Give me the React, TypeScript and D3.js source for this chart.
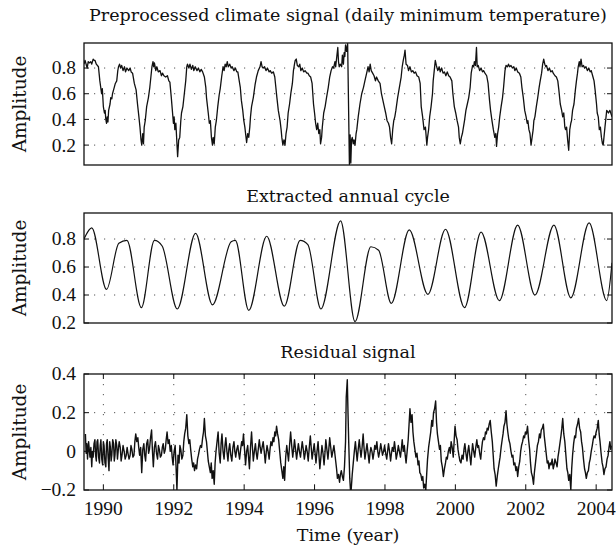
import React from 'react';
import * as d3 from 'd3';

// ---------- data ----------
const yearTicks = [1990, 1992, 1994, 1996, 1998, 2000, 2002, 2004];
const signalTicks = [0.2, 0.4, 0.6, 0.8];
const cycleTicks = [0.2, 0.4, 0.6, 0.8];
const residualTicks = [-0.2, 0, 0.2, 0.4];

const signal: [number, number][] = [
  [1989.45,0.83],[1989.48,0.86],[1989.53,0.81],[1989.54,0.80],[1989.57,0.85],[1989.60,0.84],[1989.64,0.85],[1989.67,0.83],[1989.71,0.87],[1989.74,0.86],[1989.76,0.86],[1989.80,0.83],[1989.86,0.81],[1989.90,0.70],[1989.95,0.60],[1989.97,0.64],[1990.00,0.50],[1990.03,0.45],[1990.05,0.47],[1990.07,0.40],[1990.09,0.37],[1990.11,0.42],[1990.13,0.38],[1990.15,0.47],[1990.19,0.52],[1990.21,0.57],[1990.24,0.56],[1990.26,0.60],[1990.30,0.64],[1990.34,0.68],[1990.38,0.70],[1990.41,0.78],[1990.43,0.81],[1990.46,0.83],[1990.49,0.80],[1990.52,0.82],[1990.56,0.78],[1990.60,0.81],[1990.63,0.77],[1990.67,0.80],[1990.72,0.78],[1990.76,0.80],[1990.79,0.77],[1990.83,0.76],[1990.88,0.68],[1990.93,0.63],[1990.97,0.52],
  [1991.01,0.42],[1991.04,0.34],[1991.07,0.24],[1991.09,0.20],[1991.12,0.29],[1991.14,0.21],[1991.16,0.34],[1991.19,0.39],[1991.23,0.50],[1991.28,0.57],[1991.32,0.65],[1991.35,0.73],[1991.38,0.81],[1991.41,0.85],[1991.43,0.81],[1991.45,0.84],[1991.49,0.78],[1991.52,0.81],[1991.56,0.77],[1991.61,0.78],[1991.65,0.74],[1991.68,0.76],[1991.72,0.74],[1991.77,0.73],[1991.82,0.74],[1991.86,0.70],[1991.89,0.69],[1991.93,0.57],[1991.99,0.37],
  [1992.01,0.42],[1992.03,0.32],[1992.06,0.37],[1992.11,0.11],[1992.14,0.24],[1992.17,0.26],[1992.20,0.39],[1992.22,0.45],[1992.26,0.50],[1992.30,0.60],[1992.34,0.70],[1992.37,0.81],[1992.39,0.83],[1992.43,0.80],[1992.46,0.83],[1992.50,0.79],[1992.54,0.82],[1992.57,0.78],[1992.61,0.81],[1992.66,0.78],[1992.70,0.80],[1992.74,0.77],[1992.78,0.79],[1992.82,0.77],[1992.87,0.73],[1992.91,0.65],[1992.93,0.57],[1992.98,0.45],
  [1993.01,0.37],[1993.04,0.39],[1993.07,0.26],[1993.10,0.20],[1993.12,0.26],[1993.15,0.21],[1993.18,0.34],[1993.21,0.39],[1993.25,0.50],[1993.29,0.59],[1993.32,0.64],[1993.36,0.73],[1993.40,0.81],[1993.43,0.78],[1993.46,0.83],[1993.49,0.81],[1993.52,0.85],[1993.55,0.81],[1993.59,0.83],[1993.63,0.80],[1993.66,0.81],[1993.71,0.78],[1993.75,0.80],[1993.79,0.77],[1993.82,0.77],[1993.86,0.70],[1993.89,0.65],[1993.92,0.55],[1993.96,0.47],[1993.99,0.39],
  [1994.02,0.34],[1994.04,0.29],[1994.07,0.22],[1994.10,0.29],[1994.13,0.26],[1994.16,0.34],[1994.18,0.42],[1994.21,0.50],[1994.26,0.57],[1994.31,0.67],[1994.35,0.73],[1994.40,0.78],[1994.45,0.81],[1994.48,0.85],[1994.51,0.81],[1994.54,0.80],[1994.58,0.81],[1994.62,0.78],[1994.66,0.80],[1994.71,0.77],[1994.74,0.78],[1994.78,0.76],[1994.83,0.77],[1994.87,0.73],[1994.90,0.65],[1994.93,0.57],[1994.97,0.47],
  [1995.02,0.39],[1995.05,0.32],[1995.07,0.26],[1995.10,0.20],[1995.13,0.24],[1995.16,0.20],[1995.19,0.29],[1995.22,0.34],[1995.25,0.45],[1995.29,0.52],[1995.33,0.61],[1995.37,0.68],[1995.40,0.78],[1995.43,0.83],[1995.45,0.86],[1995.48,0.87],[1995.51,0.82],[1995.55,0.81],[1995.58,0.83],[1995.61,0.78],[1995.65,0.80],[1995.69,0.77],[1995.73,0.78],[1995.78,0.76],[1995.81,0.76],[1995.85,0.74],[1995.89,0.73],[1995.93,0.68],[1995.97,0.52],
  [1996.00,0.45],[1996.03,0.37],[1996.06,0.32],[1996.09,0.37],[1996.12,0.29],[1996.15,0.32],[1996.17,0.21],[1996.20,0.26],[1996.22,0.34],[1996.26,0.45],[1996.30,0.50],[1996.34,0.57],[1996.39,0.65],[1996.43,0.73],[1996.47,0.78],[1996.51,0.81],[1996.54,0.80],[1996.58,0.85],[1996.60,0.81],[1996.64,0.91],[1996.66,0.96],[1996.68,0.85],[1996.70,0.81],[1996.73,0.83],[1996.77,0.81],[1996.79,0.90],[1996.82,0.83],[1996.84,0.92],[1996.86,0.89],[1996.88,0.98],[1996.91,0.93],[1996.94,0.99],[1996.99,0.05],
  [1997.01,0.28],[1997.03,0.06],[1997.05,0.24],[1997.07,0.26],[1997.10,0.21],[1997.12,0.24],[1997.15,0.20],[1997.18,0.29],[1997.20,0.32],[1997.24,0.42],[1997.29,0.52],[1997.34,0.60],[1997.39,0.65],[1997.43,0.70],[1997.48,0.76],[1997.52,0.81],[1997.55,0.77],[1997.58,0.83],[1997.61,0.78],[1997.65,0.76],[1997.69,0.74],[1997.73,0.70],[1997.76,0.73],[1997.81,0.70],[1997.86,0.68],[1997.90,0.60],[1997.94,0.55],[1997.98,0.50],
  [1998.02,0.45],[1998.06,0.39],[1998.10,0.37],[1998.13,0.34],[1998.16,0.26],[1998.19,0.21],[1998.22,0.32],[1998.25,0.39],[1998.28,0.42],[1998.31,0.47],[1998.36,0.57],[1998.41,0.65],[1998.46,0.73],[1998.49,0.81],[1998.52,0.86],[1998.55,0.90],[1998.57,0.94],[1998.60,0.83],[1998.64,0.82],[1998.67,0.78],[1998.71,0.81],[1998.75,0.77],[1998.79,0.78],[1998.83,0.76],[1998.87,0.77],[1998.91,0.74],[1998.96,0.73],
  [1999.00,0.68],[1999.03,0.50],[1999.07,0.42],[1999.11,0.32],[1999.15,0.34],[1999.19,0.20],[1999.21,0.26],[1999.24,0.32],[1999.27,0.42],[1999.31,0.50],[1999.35,0.60],[1999.37,0.70],[1999.40,0.78],[1999.43,0.86],[1999.46,0.82],[1999.50,0.78],[1999.54,0.81],[1999.57,0.77],[1999.61,0.80],[1999.65,0.76],[1999.69,0.77],[1999.73,0.74],[1999.77,0.77],[1999.81,0.74],[1999.85,0.73],[1999.90,0.70],[1999.93,0.60],[1999.97,0.50],
  [2000.01,0.45],[2000.05,0.39],[2000.09,0.34],[2000.11,0.26],[2000.14,0.21],[2000.17,0.26],[2000.20,0.29],[2000.23,0.34],[2000.26,0.39],[2000.30,0.47],[2000.34,0.52],[2000.38,0.57],[2000.42,0.65],[2000.45,0.76],[2000.49,0.82],[2000.52,0.81],[2000.54,0.85],[2000.57,0.82],[2000.60,0.96],[2000.62,0.81],[2000.65,0.82],[2000.69,0.78],[2000.73,0.80],[2000.77,0.77],[2000.80,0.78],[2000.84,0.76],[2000.89,0.74],[2000.93,0.68],[2000.97,0.55],
  [2001.00,0.47],[2001.04,0.39],[2001.08,0.32],[2001.12,0.26],[2001.15,0.29],[2001.17,0.19],[2001.20,0.29],[2001.23,0.34],[2001.26,0.42],[2001.30,0.50],[2001.34,0.57],[2001.37,0.65],[2001.41,0.78],[2001.44,0.82],[2001.48,0.81],[2001.51,0.83],[2001.54,0.81],[2001.58,0.82],[2001.62,0.80],[2001.66,0.81],[2001.69,0.78],[2001.73,0.80],[2001.77,0.77],[2001.82,0.76],[2001.86,0.73],[2001.89,0.65],[2001.93,0.57],[2001.97,0.47],
  [2002.01,0.42],[2002.04,0.37],[2002.06,0.39],[2002.09,0.32],[2002.12,0.29],[2002.15,0.20],[2002.18,0.26],[2002.21,0.32],[2002.23,0.39],[2002.26,0.42],[2002.30,0.50],[2002.34,0.57],[2002.38,0.65],[2002.41,0.70],[2002.45,0.76],[2002.48,0.83],[2002.51,0.87],[2002.54,0.83],[2002.57,0.81],[2002.59,0.82],[2002.63,0.78],[2002.67,0.80],[2002.71,0.77],[2002.75,0.78],[2002.78,0.76],[2002.83,0.74],[2002.87,0.73],[2002.91,0.70],[2002.94,0.63],[2002.98,0.52],
  [2003.02,0.47],[2003.05,0.42],[2003.08,0.45],[2003.11,0.34],[2003.13,0.32],[2003.16,0.34],[2003.19,0.24],[2003.22,0.16],[2003.25,0.32],[2003.28,0.37],[2003.30,0.39],[2003.33,0.47],[2003.37,0.52],[2003.41,0.63],[2003.44,0.70],[2003.47,0.76],[2003.49,0.81],[2003.52,0.85],[2003.54,0.81],[2003.57,0.87],[2003.60,0.81],[2003.64,0.82],[2003.67,0.80],[2003.71,0.81],[2003.75,0.78],[2003.79,0.80],[2003.83,0.77],[2003.86,0.78],[2003.90,0.74],[2003.94,0.70],[2003.97,0.63],
  [2004.01,0.52],[2004.03,0.45],[2004.06,0.42],[2004.09,0.32],[2004.12,0.34],[2004.15,0.26],[2004.18,0.21],[2004.20,0.20],[2004.25,0.34],[2004.30,0.47],[2004.35,0.45],[2004.39,0.47],[2004.45,0.42]
];

const cycle: [number, number][] = [
  [1989.45,0.80],[1989.67,0.88],[1990.09,0.44],[1990.44,0.77],[1990.67,0.79],[1991.08,0.31],[1991.45,0.79],[1991.67,0.75],
  [1992.10,0.30],[1992.62,0.84],[1993.10,0.33],[1993.63,0.78],[1993.75,0.79],[1994.13,0.29],[1994.64,0.82],[1995.14,0.32],
  [1995.59,0.79],[1995.81,0.76],[1996.18,0.30],[1996.74,0.93],[1997.15,0.21],[1997.60,0.745],[1997.82,0.72],[1998.18,0.34],
  [1998.69,0.865],[1999.22,0.405],[1999.72,0.87],[2000.26,0.31],[2000.73,0.85],[2001.25,0.36],[2001.77,0.90],[2002.26,0.40],
  [2002.80,0.90],[2003.28,0.38],[2003.80,0.915],[2004.30,0.36],[2004.45,0.63]
];

const residual: [number, number][] = [
  [1989.49,0.09],[1989.51,-0.01],[1989.53,0.04],[1989.55,-0.04],[1989.58,0.05],[1989.60,0.01],[1989.62,-0.03],[1989.645,0.02],[1989.67,-0.08],[1989.69,0.00],[1989.71,-0.03],[1989.735,0.04],[1989.76,0.06],[1989.78,-0.02],[1989.80,-0.05],[1989.82,0.05],[1989.84,0.06],[1989.865,-0.03],[1989.89,-0.06],[1989.91,0.03],[1989.93,0.06],[1989.955,-0.04],[1989.98,-0.07],
  [1990.00,0.05],[1990.02,0.03],[1990.045,-0.06],[1990.07,-0.08],[1990.09,0.04],[1990.11,0.06],[1990.135,-0.03],[1990.16,-0.10],[1990.18,0.05],[1990.20,0.02],[1990.22,-0.05],[1990.24,-0.02],[1990.265,0.06],[1990.29,0.04],[1990.31,-0.05],[1990.33,-0.02],[1990.355,0.06],[1990.38,0.03],[1990.40,-0.04],[1990.42,0.00],[1990.45,0.05],[1990.48,0.02],[1990.505,-0.05],[1990.53,-0.02],[1990.56,0.03],[1990.59,0.00],[1990.62,-0.04],[1990.65,-0.02],[1990.675,0.02],[1990.70,-0.01],[1990.73,-0.04],[1990.76,-0.02],[1990.785,0.03],[1990.81,0.01],[1990.84,-0.03],[1990.87,-0.02],[1990.895,0.05],[1990.92,0.09],[1990.95,0.05],[1990.98,0.07],
  [1991.005,0.02],[1991.03,-0.02],[1991.06,0.02],[1991.09,-0.11],[1991.12,0.01],[1991.15,0.04],[1991.175,-0.02],[1991.20,-0.05],[1991.23,0.04],[1991.26,0.06],[1991.285,-0.01],[1991.31,0.01],[1991.34,0.07],[1991.37,0.11],[1991.395,0.00],[1991.42,-0.08],[1991.45,0.02],[1991.48,0.05],[1991.51,-0.01],[1991.54,-0.04],[1991.565,0.03],[1991.59,0.01],[1991.62,-0.03],[1991.65,-0.02],[1991.675,0.02],[1991.70,0.04],[1991.73,-0.01],[1991.76,0.01],[1991.785,0.06],[1991.81,0.10],[1991.84,0.04],[1991.87,0.06],[1991.90,0.00],[1991.93,0.03],[1991.955,-0.03],[1991.98,-0.07],
  [1992.01,0.00],[1992.04,0.03],[1992.065,-0.08],[1992.09,-0.20],[1992.12,-0.02],[1992.15,-0.06],[1992.175,0.03],[1992.20,0.01],[1992.23,-0.04],[1992.26,-0.02],[1992.285,0.05],[1992.31,0.09],[1992.34,0.12],[1992.37,0.19],[1992.40,0.08],[1992.43,0.04],[1992.455,0.06],[1992.48,0.01],[1992.51,-0.04],[1992.54,-0.08],[1992.565,-0.06],[1992.59,-0.10],[1992.62,-0.07],[1992.65,-0.09],[1992.675,-0.04],[1992.70,-0.02],[1992.73,0.01],[1992.76,0.03],[1992.79,0.02],[1992.82,0.07],[1992.845,0.10],[1992.87,0.17],[1992.90,0.08],[1992.93,0.05],[1992.955,0.00],[1992.98,-0.05],
  [1993.01,-0.08],[1993.04,-0.11],[1993.065,-0.06],[1993.09,-0.14],[1993.12,-0.10],[1993.15,-0.17],[1993.175,-0.06],[1993.20,0.00],[1993.23,0.05],[1993.26,0.10],[1993.29,-0.01],[1993.32,-0.06],[1993.345,0.04],[1993.37,0.09],[1993.40,0.00],[1993.43,-0.04],[1993.455,0.03],[1993.48,0.07],[1993.51,0.00],[1993.54,-0.05],[1993.565,0.01],[1993.59,0.04],[1993.62,-0.02],[1993.65,-0.05],[1993.68,0.02],[1993.71,0.05],[1993.735,0.00],[1993.76,-0.03],[1993.79,0.01],[1993.82,0.03],[1993.845,-0.01],[1993.87,-0.04],[1993.90,0.01],[1993.93,0.05],[1993.955,0.03],[1993.98,0.09],
  [1994.01,0.01],[1994.04,-0.07],[1994.07,0.00],[1994.10,0.03],[1994.125,-0.03],[1994.15,-0.09],[1994.18,0.02],[1994.21,0.10],[1994.235,0.02],[1994.26,-0.05],[1994.29,0.00],[1994.32,0.04],[1994.345,-0.01],[1994.37,-0.04],[1994.40,0.01],[1994.43,0.06],[1994.455,0.02],[1994.48,-0.01],[1994.51,0.02],[1994.54,0.05],[1994.57,0.00],[1994.60,-0.06],[1994.625,-0.01],[1994.65,0.03],[1994.68,0.00],[1994.71,-0.04],[1994.735,0.01],[1994.76,0.05],[1994.79,0.03],[1994.82,0.07],[1994.845,0.05],[1994.87,0.10],[1994.895,0.08],[1994.92,0.13],[1994.95,0.09],[1994.98,0.06],
  [1995.01,0.00],[1995.04,-0.06],[1995.07,-0.10],[1995.10,-0.14],[1995.125,-0.08],[1995.15,-0.15],[1995.18,-0.03],[1995.21,0.03],[1995.235,-0.01],[1995.26,-0.05],[1995.29,0.03],[1995.32,0.10],[1995.35,0.03],[1995.38,-0.03],[1995.405,0.01],[1995.43,0.06],[1995.46,0.01],[1995.49,-0.04],[1995.515,0.00],[1995.54,0.04],[1995.57,0.00],[1995.60,-0.03],[1995.625,0.01],[1995.65,0.05],[1995.68,0.01],[1995.71,-0.04],[1995.735,-0.01],[1995.76,0.03],[1995.79,0.00],[1995.82,-0.05],[1995.85,0.02],[1995.88,0.08],[1995.905,0.02],[1995.93,-0.04],[1995.96,0.00],[1995.99,0.04],
  [1996.015,-0.01],[1996.04,-0.06],[1996.07,0.00],[1996.10,0.05],[1996.125,-0.02],[1996.15,-0.09],[1996.18,-0.03],[1996.21,0.03],[1996.24,-0.01],[1996.27,-0.07],[1996.295,-0.01],[1996.32,0.06],[1996.35,0.01],[1996.38,-0.04],[1996.405,0.01],[1996.43,0.07],[1996.46,0.02],[1996.49,-0.03],[1996.52,0.00],[1996.55,0.03],[1996.575,-0.01],[1996.60,-0.05],[1996.625,-0.09],[1996.65,-0.14],[1996.68,-0.12],[1996.71,-0.16],[1996.735,-0.12],[1996.76,-0.10],[1996.79,-0.13],[1996.82,-0.15],[1996.85,-0.08],[1996.88,0.05],[1996.90,0.28],[1996.93,0.37],[1996.95,0.20],[1996.97,0.05],
  [1997.00,-0.14],[1997.02,-0.20],[1997.04,-0.20],[1997.07,-0.12],[1997.10,-0.06],[1997.13,0.00],[1997.16,0.05],[1997.185,0.00],[1997.21,-0.05],[1997.24,0.01],[1997.27,0.06],[1997.295,0.01],[1997.32,-0.03],[1997.35,0.02],[1997.38,0.09],[1997.405,0.02],[1997.43,-0.04],[1997.46,0.00],[1997.49,0.04],[1997.52,-0.01],[1997.55,-0.06],[1997.575,-0.01],[1997.60,0.02],[1997.63,0.00],[1997.66,-0.04],[1997.685,-0.01],[1997.71,0.03],[1997.74,0.01],[1997.77,0.05],[1997.795,0.00],[1997.82,-0.03],[1997.85,0.00],[1997.88,0.04],[1997.905,0.01],[1997.93,-0.02],[1997.96,0.00],[1997.99,0.03],
  [1998.02,-0.01],[1998.05,-0.04],[1998.075,0.00],[1998.10,0.04],[1998.13,0.00],[1998.16,-0.05],[1998.185,-0.01],[1998.21,0.02],[1998.24,0.00],[1998.27,0.05],[1998.295,0.01],[1998.32,-0.04],[1998.35,-0.01],[1998.38,0.03],[1998.41,0.00],[1998.44,-0.03],[1998.465,0.01],[1998.49,0.06],[1998.52,0.00],[1998.55,0.03],[1998.575,-0.02],[1998.60,-0.06],[1998.63,0.00],[1998.66,0.06],[1998.685,0.14],[1998.71,0.22],[1998.74,0.15],[1998.77,0.19],[1998.795,0.10],[1998.82,0.05],[1998.85,0.01],[1998.88,-0.03],[1998.91,-0.01],[1998.94,-0.07],[1998.965,-0.05],[1998.99,-0.11],
  [1999.02,-0.12],[1999.05,-0.15],[1999.075,-0.13],[1999.10,-0.19],[1999.13,-0.17],[1999.16,-0.20],[1999.185,-0.12],[1999.21,-0.04],[1999.24,0.02],[1999.27,0.06],[1999.30,0.10],[1999.33,0.16],[1999.355,0.13],[1999.38,0.20],[1999.41,0.22],[1999.44,0.26],[1999.465,0.15],[1999.49,0.09],[1999.52,0.05],[1999.55,0.01],[1999.575,0.03],[1999.60,-0.05],[1999.63,-0.08],[1999.66,-0.13],[1999.69,-0.09],[1999.72,-0.06],[1999.745,-0.03],[1999.77,-0.04],[1999.80,0.00],[1999.83,0.02],[1999.855,-0.01],[1999.88,0.05],[1999.91,0.02],[1999.94,-0.03],[1999.965,0.05],[1999.99,0.13],
  [2000.02,0.08],[2000.05,0.06],[2000.075,0.01],[2000.10,-0.02],[2000.13,-0.05],[2000.16,-0.06],[2000.19,-0.02],[2000.22,-0.04],[2000.245,0.01],[2000.27,0.04],[2000.30,-0.01],[2000.33,-0.05],[2000.355,0.00],[2000.38,0.03],[2000.41,-0.02],[2000.44,-0.07],[2000.465,-0.01],[2000.49,0.04],[2000.52,0.00],[2000.55,-0.03],[2000.58,0.02],[2000.61,0.06],[2000.635,0.02],[2000.66,0.03],[2000.69,-0.01],[2000.72,-0.04],[2000.745,0.01],[2000.77,0.05],[2000.80,0.07],[2000.83,0.06],[2000.855,0.10],[2000.88,0.09],[2000.905,0.12],[2000.93,0.11],[2000.96,0.14],[2000.99,0.16],
  [2001.02,0.10],[2001.05,0.05],[2001.075,-0.02],[2001.10,-0.09],[2001.13,-0.12],[2001.16,-0.18],[2001.19,-0.13],[2001.22,-0.09],[2001.245,-0.06],[2001.27,-0.03],[2001.30,0.02],[2001.33,0.06],[2001.355,0.09],[2001.38,0.13],[2001.41,0.15],[2001.44,0.21],[2001.465,0.14],[2001.49,0.10],[2001.52,0.06],[2001.55,0.04],[2001.58,0.00],[2001.61,-0.03],[2001.635,-0.02],[2001.66,-0.07],[2001.69,-0.06],[2001.72,-0.10],[2001.745,-0.08],[2001.77,-0.13],[2001.80,-0.08],[2001.83,-0.05],[2001.855,0.00],[2001.88,0.03],[2001.91,0.05],[2001.94,0.08],[2001.965,0.07],[2001.99,0.10],
  [2002.02,0.09],[2002.05,0.13],[2002.08,0.06],[2002.11,0.01],[2002.135,-0.06],[2002.16,-0.11],[2002.19,-0.13],[2002.22,-0.17],[2002.245,-0.11],[2002.27,-0.07],[2002.30,-0.02],[2002.33,0.03],[2002.36,0.05],[2002.39,0.09],[2002.415,0.07],[2002.44,0.11],[2002.47,0.12],[2002.50,0.14],[2002.525,0.08],[2002.55,0.04],[2002.58,-0.01],[2002.61,-0.06],[2002.635,-0.05],[2002.66,-0.09],[2002.69,-0.06],[2002.72,-0.07],[2002.75,-0.04],[2002.78,-0.09],[2002.805,-0.07],[2002.83,-0.04],[2002.86,-0.06],[2002.89,-0.08],[2002.915,-0.03],[2002.94,0.00],[2002.97,0.04],
  [2003.00,0.08],[2003.025,0.12],[2003.05,0.17],[2003.08,0.09],[2003.11,0.05],[2003.14,-0.02],[2003.17,-0.09],[2003.195,-0.11],[2003.22,-0.15],[2003.25,-0.12],[2003.28,-0.20],[2003.305,-0.09],[2003.33,-0.02],[2003.36,0.04],[2003.39,0.08],[2003.415,0.07],[2003.44,0.12],[2003.47,0.14],[2003.50,0.17],[2003.53,0.12],[2003.56,0.10],[2003.585,0.05],[2003.61,0.02],[2003.64,-0.04],[2003.67,-0.09],[2003.695,-0.11],[2003.72,-0.14],[2003.75,-0.11],[2003.78,-0.10],[2003.805,-0.06],[2003.83,-0.04],[2003.86,0.00],[2003.89,0.03],[2003.915,0.06],[2003.94,0.08],[2003.97,0.07],
  [2004.00,0.10],[2004.03,0.12],[2004.06,0.16],[2004.085,0.09],[2004.11,0.05],[2004.14,-0.01],[2004.17,-0.06],[2004.195,-0.08],[2004.22,-0.12],[2004.25,-0.09],[2004.28,-0.08],[2004.31,-0.04],[2004.34,-0.02],[2004.365,0.02],[2004.39,0.05],[2004.415,0.01],[2004.43,0.03]
];

// ---------- layout ----------
const W = 616, H = 548;
const LEFT = 84, RIGHT = 612;
const WORD_FONT = 'DejaVu Serif, serif';
const NUM_FONT = 'Liberation Serif, serif';
const FS = 17.5;
const NFS = 19.5;

const x = d3.scaleLinear().domain([1989.45, 2004.45]).range([LEFT, RIGHT]);

type Panel = {
  key: string;
  title: string;
  titleY: number;
  data: [number, number][];
  domain: [number, number];
  top: number;
  bottom: number;
  ticks: number[];
  curve: d3.CurveFactory;
  xAxis: boolean;
  width: number;
};

const panels: Panel[] = [
  { key: 'sig', title: 'Preprocessed climate signal (daily minimum temperature)', titleY: 21,
    data: signal, domain: [0.045, 0.995], top: 43, bottom: 165, ticks: signalTicks, curve: d3.curveLinear, xAxis: false, width: 1.3 },
  { key: 'cyc', title: 'Extracted annual cycle', titleY: 202,
    data: cycle, domain: [0.2, 0.986], top: 213, bottom: 323, ticks: cycleTicks, curve: d3.curveMonotoneX, xAxis: false, width: 1.2 },
  { key: 'res', title: 'Residual signal', titleY: 358,
    data: residual, domain: [-0.2, 0.4], top: 374, bottom: 490, ticks: residualTicks, curve: d3.curveLinear, xAxis: true, width: 1.4 },
];

const fmt = (v: number) => (v < 0 ? '\u2212' + Math.abs(v).toString() : v.toString());

function PanelView({ p }: { p: Panel }) {
  const y = d3.scaleLinear().domain(p.domain).range([p.bottom, p.top]);
  const line = d3.line<[number, number]>().x(d => x(d[0])).y(d => y(d[1])).curve(p.curve);
  const clipId = 'clip-' + p.key;
  const tl = 5;
  return (
    <g>
      <defs>
        <clipPath id={clipId}>
          <rect x={LEFT} y={p.top} width={RIGHT - LEFT} height={p.bottom - p.top} />
        </clipPath>
      </defs>
      {p.ticks.map(t => {
        const yy = y(t);
        if (Math.abs(yy - p.top) < 1 || Math.abs(yy - p.bottom) < 1) return null;
        return <line key={'g' + t} x1={LEFT} x2={RIGHT} y1={yy} y2={yy} stroke="#555" strokeWidth={1} strokeDasharray="1.2,8.8" />;
      })}
      {p.xAxis && yearTicks.map(t => (
        <line key={'v' + t} x1={x(t)} x2={x(t)} y1={p.top} y2={p.bottom} stroke="#555" strokeWidth={1} strokeDasharray="1.2,8.8" />
      ))}
      <path d={line(p.data) || ''} fill="none" stroke="#111" strokeWidth={p.width} strokeLinejoin="round" clipPath={`url(#${clipId})`} />
      {p.ticks.map(t => {
        const yy = y(t);
        return (
          <g key={'t' + t}>
            <line x1={LEFT} x2={LEFT + tl} y1={yy} y2={yy} stroke="#111" strokeWidth={1} />
            <line x1={RIGHT} x2={RIGHT - tl} y1={yy} y2={yy} stroke="#111" strokeWidth={1} />
            <text x={76} y={yy} dy="0.33em" textAnchor="end" fontSize={NFS} fontFamily={NUM_FONT} fill="#111">{fmt(t)}</text>
          </g>
        );
      })}
      {p.xAxis && yearTicks.map(t => (
        <g key={'x' + t}>
          <line x1={x(t)} x2={x(t)} y1={p.bottom} y2={p.bottom - tl} stroke="#111" strokeWidth={1} />
          <line x1={x(t)} x2={x(t)} y1={p.top} y2={p.top + tl} stroke="#111" strokeWidth={1} />
          <text x={x(t)} y={p.bottom + 25} textAnchor="middle" fontSize={NFS} fontFamily={NUM_FONT} fill="#111">{t}</text>
        </g>
      ))}
      <rect x={LEFT} y={p.top} width={RIGHT - LEFT} height={p.bottom - p.top} fill="none" stroke="#111" strokeWidth={1.3} />
      <text x={(LEFT + RIGHT) / 2} y={p.titleY} textAnchor="middle" fontSize={FS} fontFamily={WORD_FONT} fill="#111">{p.title}</text>
      <text transform={`translate(26,${(p.top + p.bottom) / 2}) rotate(-90)`} textAnchor="middle" fontSize={FS + 1} fontFamily={WORD_FONT} fill="#111">Amplitude</text>
    </g>
  );
}

export default function App() {
  return (
    <svg width={W} height={H} viewBox={`0 0 ${W} ${H}`} style={{ position: 'absolute', left: 0, top: 0, background: '#fff' }}>
      <rect x={0} y={0} width={W} height={H} fill="#fff" />
      {panels.map(p => <PanelView key={p.key} p={p} />)}
      <text x={(LEFT + RIGHT) / 2} y={541} textAnchor="middle" fontSize={FS} fontFamily={WORD_FONT} fill="#111">Time (year)</text>
    </svg>
  );
}
